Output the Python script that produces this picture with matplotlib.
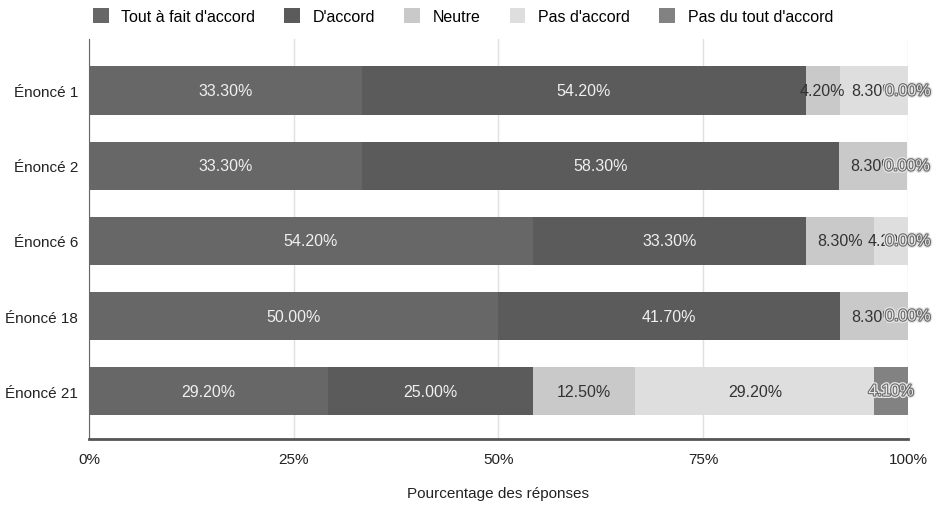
import matplotlib.pyplot as plt
import matplotlib.patheffects as pe
import numpy as np

# Réponses par énoncé (en %)
enonces = ["Énoncé 1", "Énoncé 2", "Énoncé 6", "Énoncé 18", "Énoncé 21"]
categories = ["Tout à fait d'accord", "D'accord", "Neutre", "Pas d'accord", "Pas du tout d'accord"]
tout_a_fait = [33.3, 33.3, 54.2, 50.0, 29.2]
d_accord = [54.2, 58.3, 33.3, 41.7, 25.0]
neutre = [4.2, 8.3, 8.3, 8.3, 12.5]
pas_d_accord = [8.3, 0.0, 4.2, 0.0, 29.2]
pas_du_tout = [0.0, 0.0, 0.0, 0.0, 4.1]

series = [tout_a_fait, d_accord, neutre, pas_d_accord, pas_du_tout]
couleurs = ["#676767", "#5b5b5b", "#c9c9c9", "#dedede", "#828282"]
couleurs_texte = ["#f0f0f0", "#f0f0f0", "#333333", "#333333", "#e8e8e8"]

plt.rcParams['font.family'] = ['Liberation Sans', 'DejaVu Sans']

fig = plt.figure(figsize=(9.35, 5.1), dpi=100)
ax = fig.add_axes([0.0952, 0.137, 0.8759, 0.7844])

# halo clair + contour sombre pour les étiquettes qui débordent
contour = [pe.Stroke(linewidth=3.5, foreground='#e4e4e4'),
           pe.Stroke(linewidth=1.6, foreground='#6a6a6a'),
           pe.Normal()]

y = np.arange(len(enonces))
gauche = np.zeros(len(enonces))
for nom, valeurs, coul, coul_txt in zip(categories, series, couleurs, couleurs_texte):
    valeurs = np.array(valeurs)
    ax.barh(y, valeurs, left=gauche, height=0.65, color=coul, label=nom, zorder=2)
    for yi, g, v in zip(y, gauche, valeurs):
        txt = ax.text(g + v / 2, yi, f"{v:.2f}%", ha='center', va='center',
                      fontsize=11.5, color=coul_txt, zorder=4)
        if nom == "Pas du tout d'accord":
            txt.set_path_effects(contour)
    gauche += valeurs

ax.set_xlim(0, 100)
ax.set_ylim(4.64, -0.69)
ax.set_yticks(y)
ax.set_yticklabels(enonces, fontsize=11, color='#222222')
ax.set_xticks([0, 25, 50, 75, 100])
ax.set_xticklabels(["0%", "25%", "50%", "75%", "100%"], fontsize=11, color='#222222')
ax.tick_params(length=0, pad=8)
ax.tick_params(axis='x', pad=9)
ax.grid(axis='x', color='#e0e0e0', linewidth=1, zorder=0)

for cote in ['top', 'right']:
    ax.spines[cote].set_visible(False)
ax.spines['left'].set_color('#666666')
ax.spines['bottom'].set_color('#555555')
ax.spines['bottom'].set_linewidth(2)

ax.set_xlabel("Pourcentage des réponses", fontsize=11, color='#222222', labelpad=15)

fig.legend(loc='upper center', bbox_to_anchor=(0.495, 1.01), ncol=5, frameon=False,
           fontsize=11.5, handlelength=1.0, handleheight=1.0, columnspacing=1.8,
           handletextpad=0.8)

fig.savefig("out.png", dpi=100)
